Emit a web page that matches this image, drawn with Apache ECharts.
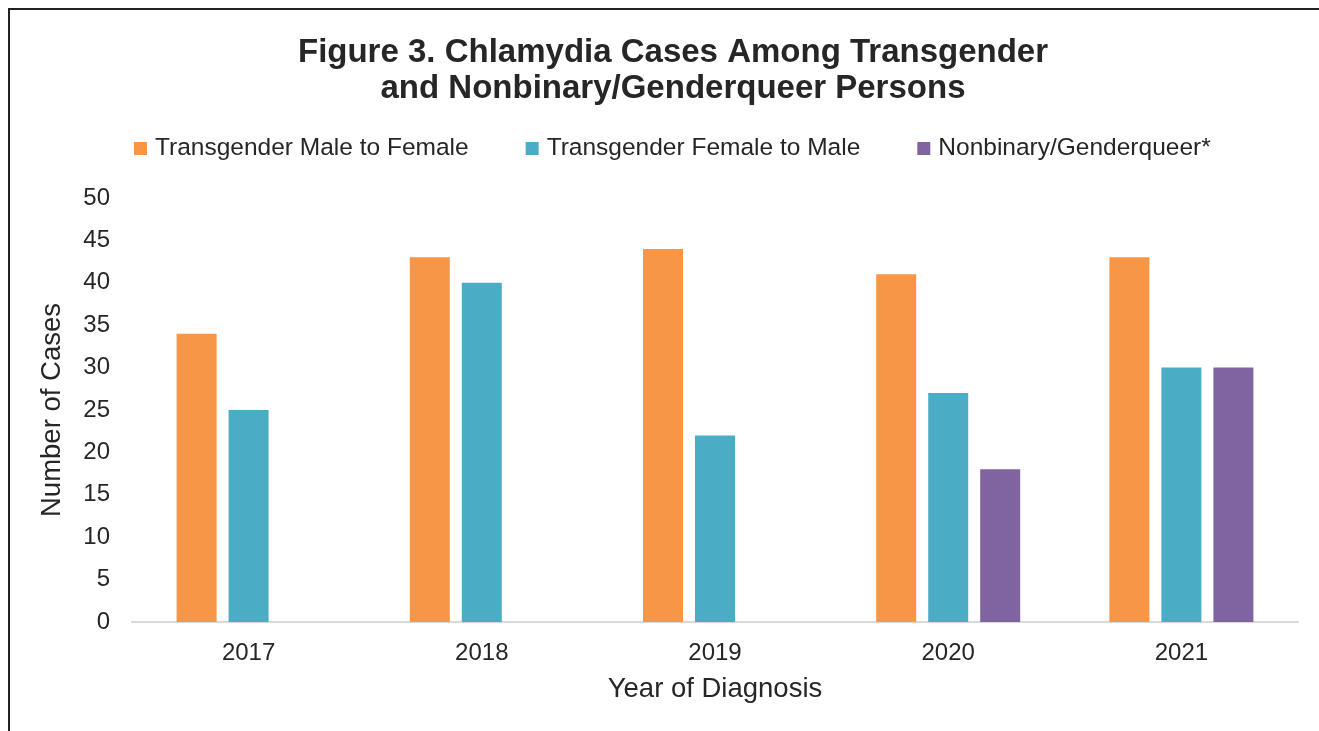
<!DOCTYPE html>
<html>
<head>
<meta charset="utf-8">
<script src="https://cdn.jsdelivr.net/npm/echarts@6/dist/echarts.min.js"></script>
<style>
  html, body { margin: 0; padding: 0; background: #fff; overflow: hidden; }
  .frame {
    position: absolute; left: 8px; top: 8px;
    width: 1400px; height: 800px;
    border-left: 2px solid #222; border-top: 2px solid #222;
  }
  #chart { position: absolute; left: 0; top: 0; width: 1319px; height: 731px; }
</style>
</head>
<body>
<div class="frame"></div>
<div id="chart"></div>
<script>
// chart data
var years = ["2017", "2018", "2019", "2020", "2021"];
var maleToFemale = [34, 43, 44, 41, 43];
var femaleToMale = [25, 40, 22, 27, 30];
var nonbinary = [null, null, null, 18, 30];

var colors = ["#F79646", "#4BACC6", "#8064A2"];
var textColor = "#262626";
var font = "'Liberation Sans', Arial, sans-serif";

var myChart = echarts.init(document.getElementById("chart"));

const option = {
  color: colors,
  animation: false,
  textStyle: { fontFamily: font, color: textColor },
  title: {
    text: "Figure 3. Chlamydia Cases Among Transgender\nand Nonbinary/Genderqueer Persons",
    left: 668,
    textAlign: "center",
    top: 30,
    textStyle: {
      fontSize: 33,
      fontWeight: "bold",
      lineHeight: 36,
      color: textColor,
      fontFamily: font
    }
  },
  legend: {
    top: 131,
    left: 129,
    itemWidth: 13,
    itemHeight: 13,
    itemGap: 57,
    icon: "rect",
    textStyle: { fontSize: 24.5, color: textColor, fontFamily: font, padding: [0, 0, 0, 3] },
    data: ["Transgender Male to Female", "Transgender Female to Male", "Nonbinary/Genderqueer*"]
  },
  grid: {
    left: 132,
    right: 21,
    top: 198,
    bottom: 109
  },
  xAxis: {
    type: "category",
    data: years,
    name: "Year of Diagnosis",
    nameLocation: "middle",
    nameGap: 53,
    nameTextStyle: { fontSize: 27.5, color: textColor, fontFamily: font },
    axisLine: { lineStyle: { color: "#d9d9d9", width: 2 } },
    axisTick: { show: false },
    axisLabel: { fontSize: 24, color: textColor, margin: 19, fontFamily: font }
  },
  yAxis: {
    type: "value",
    min: 0,
    max: 50,
    interval: 5,
    name: "Number of Cases",
    nameLocation: "middle",
    nameGap: 66,
    nameTextStyle: { fontSize: 27.5, color: textColor, fontFamily: font },
    axisLine: { show: false },
    axisTick: { show: false },
    splitLine: { show: false },
    axisLabel: { fontSize: 24, color: textColor, margin: 22, fontFamily: font }
  },
  series: [
    {
      name: "Transgender Male to Female",
      type: "bar",
      barWidth: 40,
      barGap: "30%",
      data: maleToFemale
    },
    {
      name: "Transgender Female to Male",
      type: "bar",
      barWidth: 40,
      barGap: "30%",
      data: femaleToMale
    },
    {
      name: "Nonbinary/Genderqueer*",
      type: "bar",
      barWidth: 40,
      barGap: "30%",
      data: nonbinary
    }
  ]
};

myChart.setOption(option);
</script>
</body>
</html>
